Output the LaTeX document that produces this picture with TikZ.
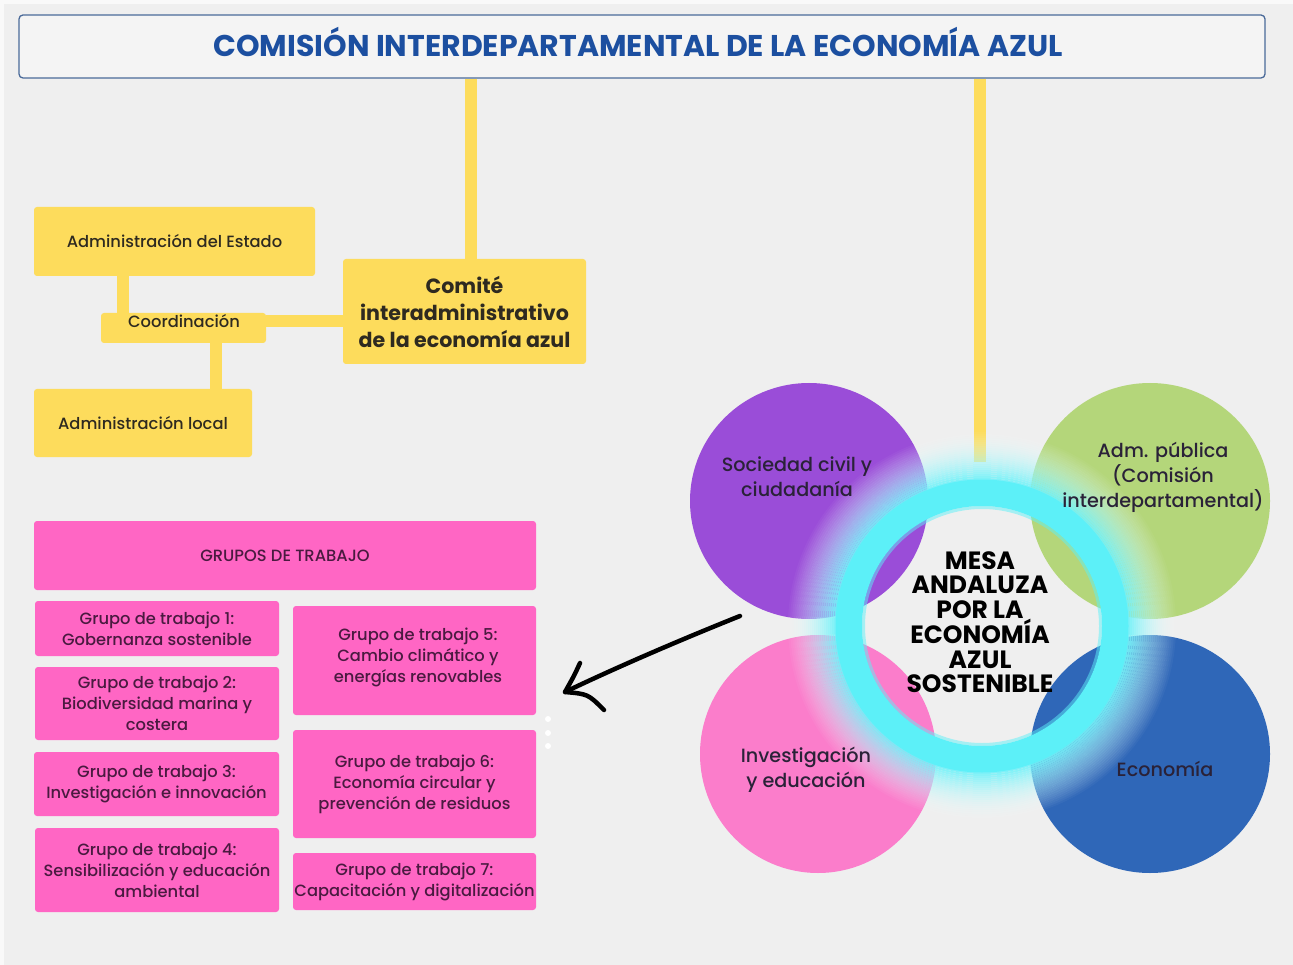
\documentclass[tikz,border=0pt]{standalone}
\usepackage{fontspec}
\setmainfont{Poppins}
\newfontfamily\pmed{Poppins Medium}
\usetikzlibrary{calc}
\definecolor{bg}{HTML}{EFEFEF}
\definecolor{titleblue}{HTML}{1C4FA0}
\definecolor{titleline}{HTML}{4A6A99}
\definecolor{yel}{HTML}{FDDC5C}
\definecolor{pnk}{HTML}{FF66C4}
\definecolor{ytext}{HTML}{2E2A20}
\definecolor{ptext}{HTML}{4A1A40}
\definecolor{cpurple}{HTML}{9A4DD8}
\definecolor{cgreen}{HTML}{B4D67A}
\definecolor{cpink}{HTML}{FB7DCB}
\definecolor{cblue}{HTML}{2F67B8}
\definecolor{cyanc}{HTML}{5CF0F8}
\definecolor{ctext}{HTML}{2A2238}
\tikzset{
  ybox/.style={fill=yel, rounded corners=3pt, text=ytext, align=center, inner sep=0pt,
               font=\pmed\fontsize{16.3}{20}\selectfont},
  pbox/.style={fill=pnk, rounded corners=3pt, text=ptext, align=center, inner sep=0pt,
               font=\pmed\fontsize{16.3}{21}\selectfont},
  yline/.style={draw=yel, line width=12pt},
  ctxt/.style={text=ctext, align=center, font=\pmed\fontsize{19.2}{25}\selectfont},
  hand/.style={draw=black, line width=4.5pt, line cap=round, line join=round},
}
\begin{document}
\begin{tikzpicture}[x=1pt,y=-1pt]
\useasboundingbox (0,0) rectangle (1293,965);
\fill[bg] (0,0) rectangle (1293,965);
\fill[white!60!bg] (0,0) rectangle (1293,4);
\fill[white!60!bg] (0,0) rectangle (4,965);

% title
\node[draw=titleline, line width=1.3pt, fill=bg!70!white, rounded corners=4pt,
      minimum width=1246pt, minimum height=63pt, inner sep=0pt] (title) at (642,46.5) {};
\node[text=titleblue, font=\fontsize{30}{34}\selectfont\bfseries, inner sep=0pt] (titlet) at (638,41.5)
      {COMISIÓN INTERDEPARTAMENTAL DE LA ECONOMÍA AZUL};

% yellow boxes
\node[ybox, minimum width=281pt, minimum height=69pt] (estado) at (174.5,241.5) {Administración del Estado};
\node[ybox, minimum width=165pt, minimum height=30pt] (coord) at (183.5,328) {};
\node[text=ytext, font=\pmed\fontsize{16.3}{20}\selectfont, inner sep=0pt] (coordt) at (184,321) {Coordinación};
\node[ybox, minimum width=218pt, minimum height=68pt] (local) at (143,423) {Administración local};
\node[ybox, minimum width=243pt, minimum height=105pt, font=\fontsize{20.6}{27}\selectfont\bfseries] (comite) at (464.5,311.5)
  {Comité\\interadministrativo\\de la economía azul};

\coordinate (xa) at (471,0);
\coordinate (xb) at (980,0);
\coordinate (xe) at (122.5,0);
\coordinate (xl) at (215.5,0);
\coordinate (ringtop) at (980,462);
\draw[yline] (title.south -| xa) -- (comite.north -| xa);
\draw[yline] (estado.south -| xe) -- (coord.north -| xe);
\draw[yline] (coord.south -| xl) -- (local.north -| xl);
\draw[yline] (coord.east |- coordt) -- (comite.west |- coordt);
\draw[yline] (title.south -| xb) -- (ringtop);

% pink boxes
\node[pbox, minimum width=502pt, minimum height=69pt] (grupos) at (285,555.5) {GRUPOS DE TRABAJO};
\node[pbox, minimum width=244pt, minimum height=55pt] (g1) at (157,628.5) {Grupo de trabajo 1:\\Gobernanza sostenible};
\node[pbox, minimum width=244pt, minimum height=73pt] (g2) at (157,703.5) {Grupo de trabajo 2:\\Biodiversidad marina y\\costera};
\node[pbox, minimum width=245pt, minimum height=64pt] (g3) at (156.5,784) {Grupo de trabajo 3:\\Investigación e innovación};
\node[pbox, minimum width=244pt, minimum height=84pt] (g4) at (157,870) {Grupo de trabajo 4:\\Sensibilización y educación\\ambiental};
\node[pbox, minimum width=243pt, minimum height=109pt] (g5) at (414.5,660.5) {};
\node[text=ptext, align=center, font=\pmed\fontsize{16.3}{21}\selectfont, inner sep=0pt] at (418,657) {Grupo de trabajo 5:\\Cambio climático y\\energías renovables};
\node[pbox, minimum width=243pt, minimum height=108pt] (g6) at (414.5,784) {Grupo de trabajo 6:\\Economía circular y\\prevención de residuos};
\node[pbox, minimum width=243pt, minimum height=57pt] (g7) at (414.5,881.5) {Grupo de trabajo 7:\\Capacitación y digitalización};

% dots
\foreach \yy in {719,733,746} \fill[white] (548,\yy) circle[radius=3pt];

% circles
\coordinate (ctr) at (982,626);
\fill[cpurple] (809,501) ellipse[x radius=119pt, y radius=118pt];
\fill[cgreen] (1150,501) ellipse[x radius=120pt, y radius=118pt];
\fill[cpink] (818,754) ellipse[x radius=118pt, y radius=119pt];
\fill[cblue] (1150,754) ellipse[x radius=120pt, y radius=119pt];

% glow
\foreach \i in {0,...,23} {
  \pgfmathsetmacro\ra{146+2*\i}
  \pgfmathsetmacro\rb{148+2*\i}
  \pgfmathsetmacro\op{0.92*(1-\i/24)}
  \pgfmathsetmacro\mx{85-3.5*\i}
  \fill[cyanc!\mx!white, fill opacity=\op, even odd rule] (ctr) circle[radius=\ra pt] (ctr) circle[radius=\rb pt];
}
\fill[cyanc, even odd rule] (ctr) circle[radius=120pt] (ctr) circle[radius=146.5pt];
\draw[cyanc, line width=3pt, opacity=0.5] (ctr) circle[radius=118.5pt];

% circle texts
\node[ctxt] (soc) at (797,476.5) {Sociedad civil y\\ciudadanía};
\node[ctxt] (adm) at (1163,477) {Adm. pública\\(Comisión\\interdepartamental)};
\node[ctxt] (inv) at (806,769.5) {Investigación\\y educación};
\node[ctxt] (eco) at (1165,769) {Economía};
\node[align=center, text=black, font=\fontsize{25}{24.5}\selectfont\bfseries] (mesa) at (980,622)
  {MESA\\ANDALUZA\\POR LA\\ECONOMÍA\\AZUL\\SOSTENIBLE};

% hand-drawn arrow
\coordinate (as) at (740,616);
\coordinate (ae) at (565,692);
\coordinate (h1) at (580,663);
\coordinate (h2) at (604,710);
\draw[hand] (as) .. controls (680,640) and (615,668) .. (ae);
\draw[hand] (h1) .. controls (574,676) .. (ae) .. controls (588,694) .. (h2);
\end{tikzpicture}
\end{document}
